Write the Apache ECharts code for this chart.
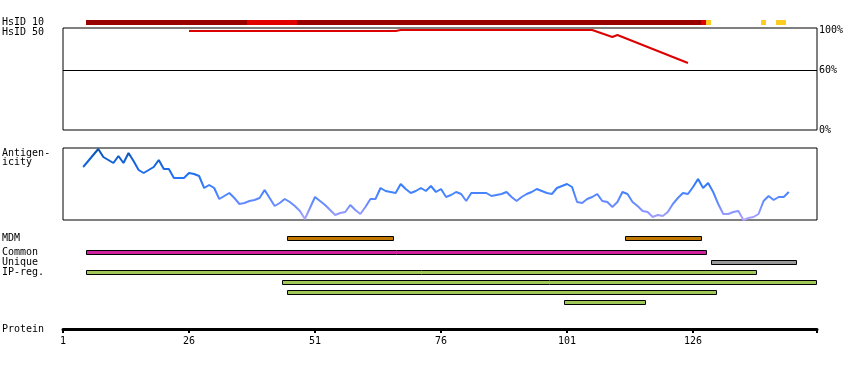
<!DOCTYPE html>
<html>
<head>
<meta charset="utf-8">
<script src="https://cdn.jsdelivr.net/npm/echarts@6/dist/echarts.min.js"></script>
<style>
html,body{margin:0;padding:0;background:#fff;}
#chart{width:850px;height:370px;}
</style>
</head>
<body>
<div id="chart"></div>
<script>
// ---------------- DATA ----------------
// HsID 10 identity bar segments (residue ranges)
const hsid10Start = [6, 38, 48, 128, 129, 140, 143];
const hsid10End   = [37, 47, 127, 128, 129, 140, 144];
const hsid10Class = ['high', 'mid', 'high', 'mid', 'low', 'low', 'low'];

// HsID 50 identity line (residue, % identity)
const hsid50Res = [26, 67, 68, 106, 110, 111, 125];
const hsid50Pct = [99, 99, 100, 100, 93, 95, 67];

// Antigenicity profile, residues 5..145
const antigenFirstResidue = 5;
const antigenValues = [
  53, 59, 65, 71, 63, 60, 57, 64, 57, 67,
  59, 50, 47, 50, 53, 60, 51, 51, 42, 42,
  42, 47, 46, 44, 32, 35, 32, 21, 24, 27,
  22, 16, 17, 19, 20, 22, 30, 22, 14, 17,
  21, 18, 14, 9, 1, 12, 23, 19, 15, 10,
  5, 7, 8, 15, 10, 6, 13, 21, 21, 32,
  29, 28, 27, 36, 31, 27, 29, 32, 29, 34,
  28, 31, 23, 25, 28, 26, 19, 27, 27, 27,
  27, 24, 25, 26, 28, 23, 19, 23, 26, 28,
  31, 29, 27, 26, 32, 34, 36, 33, 18, 17,
  21, 23, 26, 19, 18, 13, 18, 28, 26, 18,
  14, 9, 8, 3, 5, 4, 8, 16, 22, 27,
  26, 33, 41, 32, 37, 28, 16, 6, 6, 8,
  9, 0, 2, 3, 6, 19, 24, 20, 23, 23, 28
];

// Feature tracks (residue ranges)
const mdmStart    = [46, 113];
const mdmEnd      = [66, 127];
const commonStart = [6];
const commonEnd   = [128];
const uniqueStart = [130];
const uniqueEnd   = [146];
const ipregStart  = [6, 45, 46, 101];
const ipregEnd    = [138, 150, 130, 116];
const featureRows = ['Common', 'Unique', 'IP1', 'IP2', 'IP3', 'IP4'];

// Protein axis ticks
const tickResidues = [1, 26, 51, 76, 101, 126];
const tickLabels   = ['1', '26', '51', '76', '101', '126'];

const pctTicks  = [0, 60, 100];
const pctLabels = ['0%', '60%', '100%'];

// ---------------- LAYOUT / STYLE ----------------
const AXIS_MIN = 1, AXIS_MAX = 150.6;
const LEFT = 63, WIDTH = 754;
const FONT = '"DejaVu Sans Mono", monospace';
const hsidColors = { high: '#990000', mid: '#e00000', low: '#ffcc22' };

const antigenData = antigenValues.map((v, i) => [antigenFirstResidue + i, v]);
const hsid50Data = hsid50Res.map((r, i) => [r, hsid50Pct[i]]);

const hsid10Data = hsid10Start.map((s, i) => [s, hsid10End[i], 0.5, hsid10Class[i]]);
const mdmData = mdmStart.map((s, i) => [s, mdmEnd[i], 0.5]);
const featData = [];
commonStart.forEach((s, i) => featData.push([s, commonEnd[i], 0, '#d0229e']));
uniqueStart.forEach((s, i) => featData.push([s, uniqueEnd[i], 1, '#999999']));
ipregStart.forEach((s, i) => featData.push([s, ipregEnd[i], 2 + i, '#a0c858']));

function barRender(h, border, colorFn) {
  return function (params, api) {
    const s = api.value(0), e = api.value(1), row = api.value(2);
    const p0 = api.coord([s - 0.5, row]);
    const p1 = api.coord([e + 0.5, row]);
    const x0 = Math.round(p0[0]), x1 = Math.round(p1[0]);
    const y0 = Math.round(p0[1] - h / 2);
    return {
      type: 'rect',
      shape: border ? { x: x0 + 0.5, y: y0 + 0.5, width: x1 - x0, height: h }
                    : { x: x0, y: y0, width: x1 - x0, height: h },
      style: border ? { fill: colorFn(params), stroke: '#000', lineWidth: 1 }
                    : { fill: colorFn(params), stroke: null }
    };
  };
}

function hiddenX(i) {
  return { gridIndex: i, type: 'value', min: AXIS_MIN, max: AXIS_MAX, show: false };
}

const grids = [
  { left: LEFT, width: WIDTH, top: 20, height: 5 },
  { left: LEFT, width: WIDTH, top: 28, height: 102, show: true, borderColor: '#000', borderWidth: 1 },
  { left: LEFT, width: WIDTH, top: 148, height: 72, show: true, borderColor: '#000', borderWidth: 1 },
  { left: LEFT, width: WIDTH, top: 233, height: 10 },
  { left: LEFT, width: WIDTH, top: 247, height: 60 },
  { left: LEFT, width: WIDTH, top: 320, height: 9 }
];

const labelTexts = [
  ['HsID 10', 22.5], ['HsID 50', 32.5], ['Antigen-', 153], ['icity', 162.5],
  ['MDM', 238], ['Common', 252], ['Unique', 262], ['IP-reg.', 272], ['Protein', 329]
];

const option = {
  animation: false,
  backgroundColor: '#fff',
  grid: grids,
  xAxis: [
    hiddenX(0), hiddenX(1), hiddenX(2), hiddenX(3), hiddenX(4),
    {
      gridIndex: 5, type: 'value', min: AXIS_MIN, max: AXIS_MAX, position: 'bottom',
      axisLine: { show: true, lineStyle: { color: '#000', width: 3 } },
      axisTick: { show: true, customValues: tickResidues.concat([AXIS_MAX]), length: 4, lineStyle: { color: '#000', width: 2 } },
      axisLabel: {
        show: true, customValues: tickResidues, margin: 7,
        formatter: v => tickLabels[tickResidues.indexOf(v)],
        fontFamily: FONT, fontSize: 10, color: '#000'
      },
      splitLine: { show: false }
    }
  ],
  yAxis: [
    { gridIndex: 0, type: 'value', min: 0, max: 1, show: false },
    {
      gridIndex: 1, type: 'value', min: 0, max: 102, position: 'right',
      axisLine: { show: false }, axisTick: { show: false }, splitLine: { show: false },
      axisLabel: {
        show: true, customValues: pctTicks, margin: 2,
        formatter: v => pctLabels[pctTicks.indexOf(v)],
        fontFamily: FONT, fontSize: 10, color: '#000', padding: [3, 0, 0, 0]
      }
    },
    { gridIndex: 2, type: 'value', min: 0, max: 72, show: false },
    { gridIndex: 3, type: 'value', min: 0, max: 1, show: false },
    { gridIndex: 4, type: 'category', data: featureRows, inverse: true, show: false },
    { gridIndex: 5, type: 'value', show: false }
  ],
  visualMap: {
    type: 'continuous', show: false, seriesIndex: 2, dimension: 1, min: 0, max: 72,
    inRange: { color: ['#b0a4ff', '#6e8cff', '#4282ff', '#2472f8', '#1262d8', '#0850b0'] }
  },
  graphic: labelTexts.map(t => ({
    type: 'text', x: 2, y: t[1],
    style: { text: t[0], font: '10px ' + FONT, fill: '#000', verticalAlign: 'middle' }
  })),
  series: [
    {
      type: 'custom', xAxisIndex: 0, yAxisIndex: 0, data: hsid10Data,
      renderItem: barRender(5, false, p => hsidColors[hsid10Data[p.dataIndex][3]])
    },
    {
      type: 'line', xAxisIndex: 1, yAxisIndex: 1, data: hsid50Data,
      showSymbol: false, lineStyle: { color: '#dd0000', width: 2 }, itemStyle: { color: '#dd0000' },
      markLine: {
        silent: true, symbol: 'none', label: { show: false },
        lineStyle: { color: '#000', width: 1, type: 'solid' },
        data: [{ yAxis: 60 }]
      }
    },
    {
      type: 'line', xAxisIndex: 2, yAxisIndex: 2, data: antigenData,
      showSymbol: false, lineStyle: { width: 2 }
    },
    {
      type: 'custom', xAxisIndex: 3, yAxisIndex: 3, data: mdmData,
      renderItem: barRender(4, true, () => '#c07800')
    },
    {
      type: 'custom', xAxisIndex: 4, yAxisIndex: 4, data: featData,
      renderItem: barRender(4, true, p => featData[p.dataIndex][3])
    }
  ]
};

const chart = echarts.init(document.getElementById('chart'), null, { renderer: 'canvas' });
chart.setOption(option);
</script>
</body>
</html>
